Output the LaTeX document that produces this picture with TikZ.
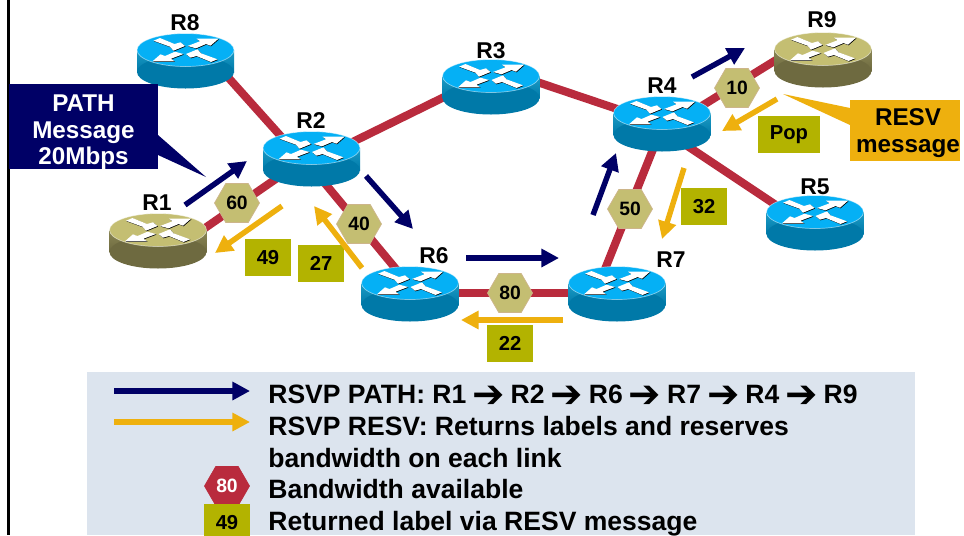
\documentclass[tikz,border=0pt]{standalone}
\usepackage{fontspec}
\setmainfont{Liberation Sans}
\newfontfamily\arrowfont{DejaVu Sans}
\usepackage{xcolor}
\usetikzlibrary{shapes,arrows.meta}
\definecolor{linkred}{HTML}{B92B3D}
\definecolor{navyblue}{HTML}{000066}
\definecolor{resvgold}{HTML}{EEB00E}
\definecolor{hextan}{HTML}{C4BE72}
\definecolor{hexedge}{HTML}{CDB58A}
\definecolor{labelolive}{HTML}{B3B300}
\definecolor{legendbg}{HTML}{DCE4EE}
\definecolor{topblue}{HTML}{05B0F5}
\definecolor{sideblue}{HTML}{0079A8}
\definecolor{shadeblue}{HTML}{1C9CC6}
\definecolor{sidetan}{HTML}{6E6A40}
\definecolor{shadetan}{HTML}{8A8654}
\tikzset{
  router/.style={ellipse,minimum width=1.6cm,minimum height=0.8cm,inner sep=0},
  rname/.style={font=\fontsize{13}{15}\selectfont\bfseries,inner sep=0},
  link/.style={linkred,line width=4.6pt},
  bw/.style={regular polygon,regular polygon sides=6,minimum size=0.9cm,inner sep=0,fill=hextan,draw=hexedge,line width=0.4pt,font=\fontsize{11}{13}\selectfont\bfseries},
  lab/.style={fill=labelolive,minimum width=0.92cm,minimum height=0.74cm,inner sep=0,font=\fontsize{11.5}{13}\selectfont\bfseries},
  pathmsg/.style={line width=3.1pt,navyblue,-{Triangle[length=10pt,width=10pt]}},
  resvmsg/.style={line width=3.1pt,resvgold,-{Triangle[length=10pt,width=10pt]}},
  legtext/.style={anchor=base west,inner sep=0,font=\fontsize{15.1}{17}\selectfont\bfseries},
  callout/.style={align=center,inner sep=0,font=\fontsize{13.8}{15}\selectfont\bfseries}
}
% arrow between two routers in the legend text
\newcommand{\hop}{\hspace{-0.8pt}\smash{\raisebox{-2.8pt}{\arrowfont\fontsize{22}{22}\selectfont ➔}}\hspace{-0.8pt}}
% body of a router, drawn on top of the links
\newcommand{\routerbody}[4]{
  \begin{scope}[shift={(#1.center)}]
    \fill[sidetan,top color=#3,bottom color=#2] (-48.5,-10) rectangle (48.5,12);
    \fill[#2] (0,12) ellipse [x radius=48.5,y radius=16.5];
    \fill[#4] (0,-10) ellipse [x radius=48.5,y radius=16.5];
    \draw[white,opacity=0.5,line width=0.4pt] (0,-10) ellipse [x radius=48.5,y radius=16.5];
    \foreach \s in {1,-1}{
      \begin{scope}[shift={(0.6,-9.4)},scale=\s]
        \fill[black] (-32,-9.3) -- (-25.5,-12) -- (-11,-6) -- (-5,-7.7) -- (-0.5,-4) -- (-12,0.7) -- (-15.5,-3.3) -- cycle;
        \fill[black] (2,-4) -- (10.5,-1.7) -- (20.5,-6) -- (25,-4.3) -- (33,-11.3) -- (11,-11.3) -- (14.5,-8.7) -- cycle;
      \end{scope}
      \begin{scope}[shift={(0,-10)},scale=\s]
        \fill[white] (-32,-9.3) -- (-25.5,-12) -- (-11,-6) -- (-5,-7.7) -- (-0.5,-4) -- (-12,0.7) -- (-15.5,-3.3) -- cycle;
        \fill[white] (2,-4) -- (10.5,-1.7) -- (20.5,-6) -- (25,-4.3) -- (33,-11.3) -- (11,-11.3) -- (14.5,-8.7) -- cycle;
      \end{scope}
    }
  \end{scope}
}
\begin{document}
\begin{tikzpicture}[x=0.02cm,y=-0.02cm]
    \useasboundingbox (0,0) rectangle (964,535);
    \clip (0,0) rectangle (964,535);
    \fill[white] (0,0) rectangle (964,535);
    \fill[legendbg] (87,372) rectangle (915,535);
    \draw[black,line width=1.4pt] (8.7,0) -- (8.7,535);

    \node[router] (r1) at (158,240) {};
    \node[router] (r2) at (311.5,158) {};
    \node[router] (r3) at (491,86) {};
    \node[router] (r4) at (662,123) {};
    \node[router] (r5) at (815,222) {};
    \node[router] (r6) at (410,293) {};
    \node[router] (r7) at (617,293) {};
    \node[router] (r8) at (185.5,60) {};
    \node[router] (r9) at (823,59) {};

    \draw [link] (r8.-15) to (r2.148);
    \draw [link] (r2.20) to (r3.190);
    \draw [link] (r3.10) to (r4.163);
    \draw [link] (r1.9) to (r2.209);
    \draw [link] (r2.-66) to (r6.118);
    \draw [link] (r6) to (r7);
    \draw [link] (r7.126) to (r4.252);
    \draw [link] (r4.-45) to (r5.159);
    \draw [link] (r4.21) to (r9.175);

    \routerbody{r1}{sidetan}{shadetan}{hextan}
    \routerbody{r2}{sideblue}{shadeblue}{topblue}
    \routerbody{r3}{sideblue}{shadeblue}{topblue}
    \routerbody{r4}{sideblue}{shadeblue}{topblue}
    \routerbody{r5}{sideblue}{shadeblue}{topblue}
    \routerbody{r6}{sideblue}{shadeblue}{topblue}
    \routerbody{r7}{sideblue}{shadeblue}{topblue}
    \routerbody{r8}{sideblue}{shadeblue}{topblue}
    \routerbody{r9}{sidetan}{shadetan}{hextan}

    \node[rname] (n1) at (157,203) {R1};
    \node[rname] (n2) at (311,121) {R2};
    \node[rname] (n3) at (491,51) {R3};
    \node[rname] (n4) at (662,86) {R4};
    \node[rname] (n5) at (815,187) {R5};
    \node[rname] (n6) at (434,256) {R6};
    \node[rname] (n7) at (671,260) {R7};
    \node[rname] (n8) at (185,23) {R8};
    \node[rname] (n9) at (822,20) {R9};

    \node[bw] (b60) at (237,203) {60};
    \node[bw] (b40) at (359,224) {40};
    \node[bw] (b80) at (510,293) {80};
    \node[bw] (b50) at (630,209) {50};
    \node[bw] (b10) at (737,88) {10};

    \node[lab] (l49) at (268,257.5) {49};
    \node[lab] (l27) at (321,263.5) {27};
    \node[lab] (l22) at (510,343) {22};
    \node[lab] (l32) at (704,206.5) {32};
    \node[lab,minimum width=1.24cm] (lpop) at (789,134.5) {Pop};

    % PATH arrows
    \coordinate (p1a) at (185,205);
    \coordinate (p1b) at (247,161);
    \coordinate (p2a) at (366,176);
    \coordinate (p2b) at (413,229);
    \coordinate (p3a) at (466,258);
    \coordinate (p3b) at (559,258);
    \coordinate (p4a) at (593,215);
    \coordinate (p4b) at (616,153);
    \coordinate (p5a) at (692,77);
    \coordinate (p5b) at (745,48);
    \draw [pathmsg] (p1a) to (p1b);
    \draw [pathmsg] (p2a) to (p2b);
    \draw [pathmsg] (p3a) to (p3b);
    \draw [pathmsg] (p4a) to (p4b);
    \draw [pathmsg] (p5a) to (p5b);

    % RESV arrows
    \coordinate (v1a) at (777,99);
    \coordinate (v1b) at (722,131);
    \coordinate (v2a) at (684,168);
    \coordinate (v2b) at (662,239);
    \coordinate (v3a) at (563,320);
    \coordinate (v3b) at (461,320);
    \coordinate (v4a) at (362,268);
    \coordinate (v4b) at (314,206);
    \coordinate (v5a) at (282,206);
    \coordinate (v5b) at (215,253);
    \draw [resvmsg] (v1a) to (v1b);
    \draw [resvmsg] (v2a) to (v2b);
    \draw [resvmsg] (v3a) to (v3b);
    \draw [resvmsg] (v4a) to (v4b);
    \draw [resvmsg] (v5a) to (v5b);

    % callouts
    \fill[navyblue] (158,135) -- (206,177) -- (158,155) -- cycle;
    \node[callout,fill=navyblue,text=white,minimum width=2.98cm,minimum height=1.66cm] (pathbox) at (83.5,126.5) {\rule{0pt}{16pt}PATH\\Message\\20Mbps};
    \fill[resvgold] (850,108) -- (783,94) -- (850,125) -- cycle;
    \node[callout,fill=resvgold,minimum width=2.2cm,minimum height=1.22cm] (resvbox) at (905,130.5) {\rule{0pt}{12.6pt}\hspace*{3.5pt}RESV\\\hspace*{3.5pt}message};

    % legend
    \coordinate (k1a) at (114,391);
    \coordinate (k1b) at (250,391);
    \coordinate (k2a) at (114,422);
    \coordinate (k2b) at (250,422);
    \draw [pathmsg] (k1a) to (k1b);
    \draw [resvmsg] (k2a) to (k2b);
    \node[bw,fill=linkred,draw=linkred,text=white] (k80) at (227,486) {80};
    \node[lab] (k49) at (227,522.5) {49};
    \node[legtext] (t1) at (268,403) {RSVP PATH: R1 \hop{} R2 \hop{} R6 \hop{} R7 \hop{} R4 \hop{} R9};
    \node[legtext] (t2) at (268,435) {RSVP RESV: Returns labels and reserves};
    \node[legtext] (t3) at (268,467) {bandwidth on each link};
    \node[legtext] (t4) at (268,498) {Bandwidth available};
    \node[legtext] (t5) at (268,530) {Returned label via RESV message};
\end{tikzpicture}
\end{document}
